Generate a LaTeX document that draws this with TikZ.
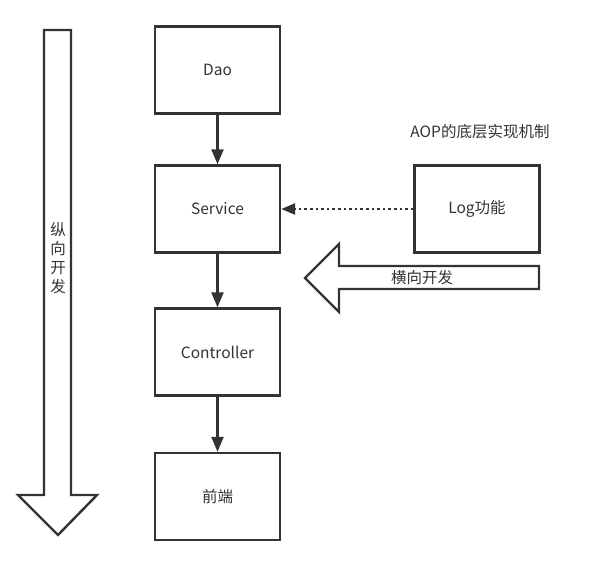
\documentclass[tikz,border=0pt]{standalone}
\usepackage{fontspec}
\setmainfont{Noto Sans CJK SC}
\usetikzlibrary{arrows.meta}
\definecolor{linegray}{HTML}{333333}
\tikzset{layerbox/.style={draw=linegray,line width=2.4pt,minimum width=125pt,
        minimum height=87pt,font=\fontsize{15.5}{18}\selectfont,text=linegray},
    flowline/.style={draw=linegray,line width=2.4pt,
        -{Triangle[length=15pt,width=12pt]}},
    blockarrow/.style={draw=linegray,line width=2.4pt,line join=miter},
    }
\begin{document}
\begin{tikzpicture}[x=1pt,y=-1pt]
	\useasboundingbox (0,0) rectangle (601,564);
	% the four layers
	\node[layerbox] (dao) at (217.5,70) {Dao};
	\node[layerbox] (service) at (217.5,209) {Service};
	\node[layerbox] (controller) at (217.5,352) {Controller};
	\node[layerbox] (front) at (217.5,496.5) {前端};
	\node[layerbox] (log) at (477,209) {Log功能};
	\node[text=linegray,font=\fontsize{15.5}{18}\selectfont] (aop) at (480,132) {AOP的底层实现机制};
	\draw[flowline] (dao) -- (service);
	\draw[flowline] (service) -- (controller);
	\draw[flowline] (controller) -- (front);
	\draw[flowline,line width=2.6pt,dash pattern=on 2.6pt off 3pt,
		-{Triangle[length=14pt,width=11pt]}] (log) -- (service);
	% vertical development
	\draw[blockarrow] (44,30) -- (71,30) -- (71,495) -- (97,495) -- (58,535)
		-- (18,495) -- (44,495) -- cycle;
	\node[text=linegray,align=center,font=\fontsize{15.5}{19}\selectfont] (vert) at (58,258) {纵\\向\\开\\发};
	% horizontal development
	\draw[blockarrow] (539,266) -- (539,289) -- (339,289) -- (339,312) -- (305,278)
		-- (339,244) -- (339,266) -- cycle;
	\node[text=linegray,font=\fontsize{15.5}{18}\selectfont] (horiz) at (422,278) {横向开发};
\end{tikzpicture}
\end{document}
